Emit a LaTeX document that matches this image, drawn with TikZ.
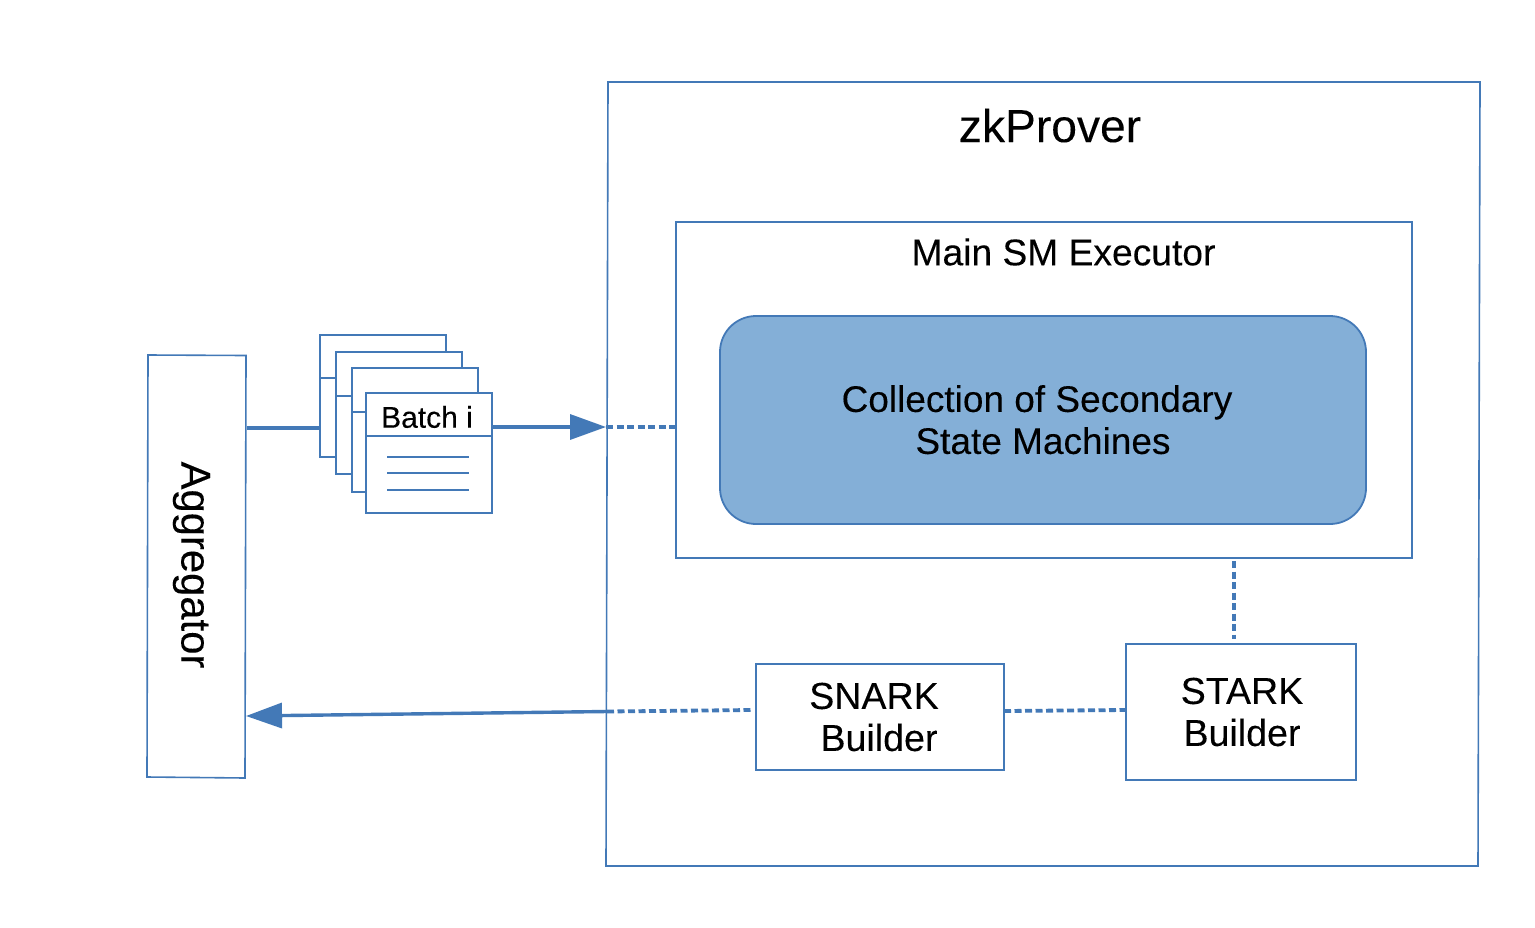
\documentclass[tikz,border=0pt]{standalone}
\usepackage{fontspec}
\setmainfont[FakeBold=0.12]{Liberation Sans}
\usetikzlibrary{arrows.meta,calc}
\definecolor{edge}{HTML}{4379B7}
\definecolor{fillb}{HTML}{84AFD7}
\tikzset{
  x=1pt,y=-1pt,
  box/.style={draw=edge,line width=1.8pt,fill=white,inner sep=0pt,align=center,font=\fontsize{37.6}{42}\selectfont},
  sheet/.style={box,minimum width=126pt},
  title/.style={inner sep=0pt,text=black},
  solidc/.style={draw=edge,line width=3.4pt},
  dotc/.style={draw=edge,line width=3.8pt,dash pattern=on 7pt off 3.5pt},
  thin line/.style={draw=edge,line width=1.6pt},
  head/.style={-{Triangle[length=36pt,width=25pt,fill=edge]}},
}
\begin{document}
\begin{tikzpicture}
\useasboundingbox (0,0) rectangle (1535,927);
\fill[white] (0,0) rectangle (1535,927);

% named ends of connectors
\coordinate (aggOut) at (246.5,428);
\coordinate (stackIn) at (320,428);
\coordinate (stackOut) at (492,427);
\coordinate (proverIn) at (606,427);
\coordinate (mainIn) at (676,427);
\coordinate (aggIn) at (246,716);
\coordinate (proverOut) at (607,711.5);
\coordinate (snarkIn) at (752,710);
\coordinate (snarkOut) at (1004,711);
\coordinate (starkWest) at (1126,710);
\coordinate (mainDown) at (1234,561);
\coordinate (starkUp) at (1234,639);

% outer boxes
\coordinate (pa) at (608,82);
\coordinate (pb) at (1480,82);
\coordinate (pc) at (1478,866);
\coordinate (pd) at (606,866);
\draw[thin line] (pa) -- (pb) -- (pc) -- (pd) -- cycle;
\node[title,font=\fontsize{46.2}{50}\selectfont] (prover) at (1050,125.5) {zkProver};

\node[box,minimum width=736pt,minimum height=336pt] (main) at (1044,390) {};
\node[title,font=\fontsize{37.2}{42}\selectfont] (mainT) at (1063.5,252) {Main SM Executor};
\node[box,fill=fillb,rounded corners=36pt,minimum width=646pt,minimum height=208pt,font=\fontsize{37}{42}\selectfont] (coll) at (1043,420)
  {\raisebox{1pt}{Collection of Secondary}\hspace{12pt}\mbox{}\\\raisebox{1pt}{State Machines}};

\node[box,minimum width=248pt,minimum height=106pt] (snark) at (880,717) {SNARK\hspace{12pt}\mbox{}\\\hspace{-2pt}Builder};
\node[box,minimum width=230pt,minimum height=136pt] (stark) at (1241,712) {\hspace{2pt}STARK\\\hspace{2pt}Builder};

% aggregator
\coordinate (aa) at (148,355);
\coordinate (ab) at (246,355.5);
\coordinate (ac) at (245,778);
\coordinate (ad) at (147,777);
\draw[thin line] (aa) -- (ab) -- (ac) -- (ad) -- cycle;
\node[title,rotate=-90,font=\fontsize{41.8}{46}\selectfont] (agg) at (191.5,565) {Aggregator};

% connectors
\draw[solidc] (aggOut) -- (stackIn);
\draw[solidc,head] (stackOut) -- (proverIn);
\draw[dotc] (proverIn) -- (mainIn);
\draw[solidc,head] (proverOut) -- (aggIn);
\draw[dotc] (proverOut) -- (snarkIn);
\draw[dotc] (snarkOut) -- (starkWest);
\draw[dotc] (mainDown) -- (starkUp);

% stack of batches
\node[sheet,minimum height=122pt] (s1) at (383,396) {};
\draw[thin line] ($(s1.north west)+(0,44)$) -- ($(s1.north east)+(0,44)$);
\node[sheet,minimum height=122pt] (s2) at (399,413) {};
\draw[thin line] ($(s2.north west)+(0,45)$) -- ($(s2.north east)+(0,45)$);
\node[sheet,minimum height=124pt] (s3) at (415,430) {};
\draw[thin line] ($(s3.north west)+(0,45)$) -- ($(s3.north east)+(0,45)$);
\node[sheet,minimum height=120pt] (s4) at (429,453) {};
\draw[thin line] ($(s4.north west)+(0,44)$) -- ($(s4.north east)+(0,44)$);
\node[title,font=\fontsize{30}{34}\selectfont] (batch) at (427,417) {Batch i};
\draw[thin line] ($(s4.north west)+(22,65)$) -- ($(s4.north west)+(104,65)$);
\draw[thin line] ($(s4.north west)+(22,81)$) -- ($(s4.north west)+(104,81)$);
\draw[thin line] ($(s4.north west)+(22,98)$) -- ($(s4.north west)+(104,98)$);
\end{tikzpicture}
\end{document}
